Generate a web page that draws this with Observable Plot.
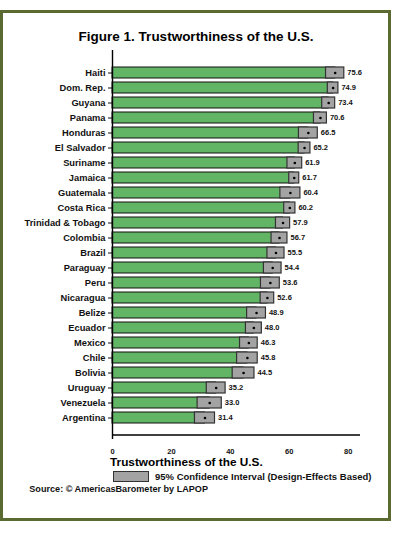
<!DOCTYPE html>
<html><head><meta charset="utf-8">
<script src="https://cdn.jsdelivr.net/npm/d3@7"></script>
<script src="https://cdn.jsdelivr.net/npm/@observablehq/plot@0.6"></script>
<style>
html,body{margin:0;padding:0;background:#fff;}
body{width:399px;height:534px;position:relative;overflow:hidden;font-family:"Liberation Sans",Arial,sans-serif;font-weight:bold;color:#111;}
#frame{position:absolute;left:0;top:10px;width:385px;height:505px;border:3.5px solid #5a6a30;}
.t{position:absolute;white-space:nowrap;line-height:1;}
#title{left:0;width:392px;text-align:center;top:30.2px;font-size:13.5px;color:#000;}
#xtitle{left:110px;top:457.2px;font-size:11.8px;color:#000;}
#legbox{position:absolute;left:112.7px;top:470.7px;width:36.6px;height:11px;box-sizing:border-box;background:#a3a3a3;border:1.5px solid #333;}
#legtext{left:155px;top:472.3px;font-size:9.5px;}
#source{left:29.3px;top:484.7px;font-size:9.1px;}
#chart{position:absolute;left:0;top:0;}
</style>
</head><body>
<div id="frame"></div>
<div class="t" id="title">Figure 1. Trustworthiness of the U.S.</div>
<div id="chart"></div>
<div class="t" id="xtitle">Trustworthiness of the U.S.</div>
<div id="legbox"></div>
<div class="t" id="legtext">95% Confidence Interval (Design-Effects Based)</div>
<div class="t" id="source">Source: © AmericasBarometer by LAPOP</div>
<script>
const countries = ["Haiti","Dom. Rep.","Guyana","Panama","Honduras","El Salvador","Suriname","Jamaica","Guatemala","Costa Rica","Trinidad & Tobago","Colombia","Brazil","Paraguay","Peru","Nicaragua","Belize","Ecuador","Mexico","Chile","Bolivia","Uruguay","Venezuela","Argentina"];
const means = [75.6,74.9,73.4,70.6,66.5,65.2,61.9,61.7,60.4,60.2,57.9,56.7,55.5,54.4,53.6,52.6,48.9,48.0,46.3,45.8,44.5,35.2,33.0,31.4];
const halfWidths = [3.1,1.8,2.2,2.2,3.2,2.0,2.5,1.7,3.4,1.9,2.4,2.7,2.9,3.0,3.2,2.3,3.2,2.7,3.0,3.5,3.7,3.2,4.1,3.4];
const xTicks = [0,20,40,60,80];

const data = countries.map((c,i)=>({country:c, mean:means[i], lo:means[i]-halfWidths[i], hi:means[i]+halfWidths[i]}));

const chart = Plot.plot({
  width: 399, height: 460,
  marginLeft: 112, marginRight: 39, marginTop: 50, marginBottom: 21,
  insetTop: 9.3, insetBottom: 9.3,
  style: {fontFamily: '"Liberation Sans", Arial, sans-serif', fontWeight: "bold", color: "#111", background: "transparent", overflow: "visible"},
  x: {domain: [0, 84.2]},
  y: {domain: countries, paddingInner: 0.29, paddingOuter: 0.145},
  marks: [
    Plot.barX(data, {x: "mean", y: "country", fill: "#62b565", stroke: "#111", strokeWidth: 1}),
    Plot.barX(data, {x1: "lo", x2: "hi", y: "country", fill: "#a3a3a3", stroke: "#333", strokeWidth: 1.2}),
    Plot.dot(data, {x: "mean", y: "country", r: 1.3, fill: "#000"}),
    Plot.text(data, {x: "hi", y: "country", text: d => d.mean.toFixed(1), textAnchor: "start", dx: 3, fontSize: 7.5, fontWeight: "bold", fill: "#111"}),
    Plot.ruleX([0], {stroke: "#000", strokeWidth: 1.4}),
    Plot.ruleY([countries[countries.length-1]], {dy: 17, stroke: "#000", strokeWidth: 1.3}),
    Plot.axisX({ticks: xTicks, tickSize: 0, tickPadding: 9, fontSize: 7.5, label: null}),
    Plot.axisY({tickSize: 4, tickPadding: 3, fontSize: 9.3, label: null})
  ]
});
document.getElementById("chart").appendChild(chart);
</script>
</body></html>
